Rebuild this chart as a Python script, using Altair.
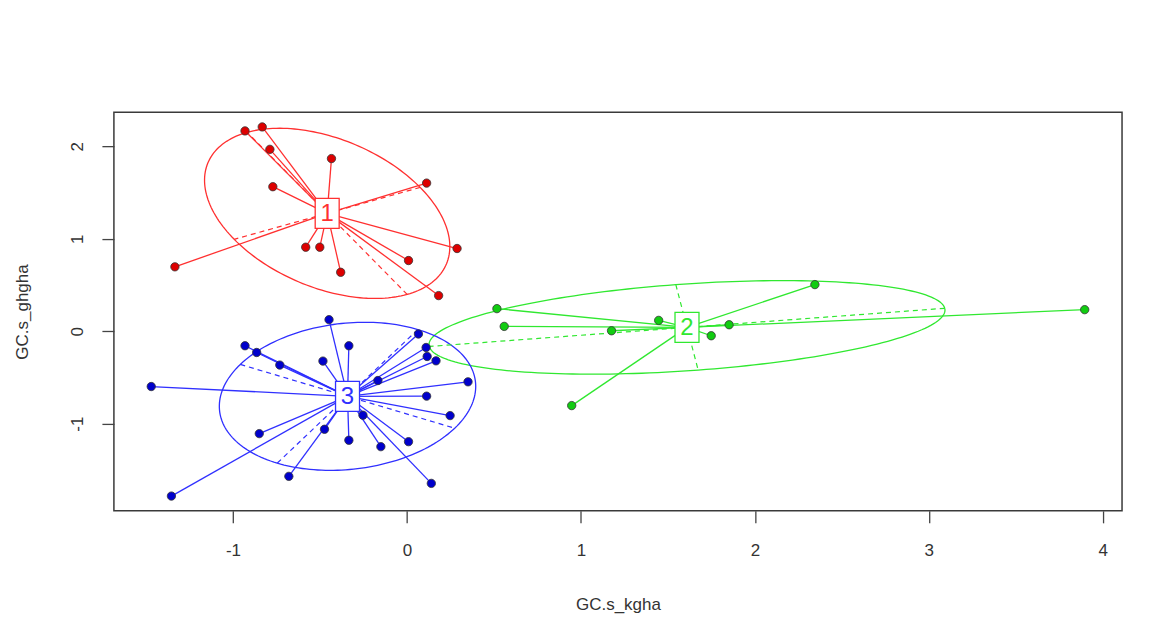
import altair as alt
import numpy as np
import pandas as pd

x_title = "GC.s_kgha"
y_title = "GC.s_ghgha"
cluster_names = ["1", "2", "3"]
line_colors = ["#ff3030", "#30e830", "#3030ff"]
point_colors = ["#dd0000", "#11cc11", "#0000cc"]
x_ticks = [-1, 0, 1, 2, 3, 4]
y_ticks = [-1, 0, 1, 2]

c1_x = [-0.931, -0.832, -0.788, -0.434, -0.771, 0.113, 0.288, 0.009, 0.182, -0.381, -0.501, -0.582, -1.334]
c1_y = [2.165, 2.208, 1.966, 1.866, 1.562, 1.601, 0.894, 0.764, 0.385, 0.637, 0.908, 0.908, 0.696]

c2_x = [0.517, 0.559, 1.176, 1.447, 1.749, 1.852, 0.947, 2.345, 3.896]
c2_y = [0.244, 0.052, 0.005, 0.117, -0.049, 0.070, -0.804, 0.504, 0.233]

c3_x = [-0.448, -0.931, -0.864, -0.731, -0.334, -0.483, 0.066, 0.110, 0.116, 0.167,
        -0.167, 0.351, 0.113, 0.248, -0.253, 0.009, -0.150, -0.334, -0.474, -0.849,
        -0.679, 0.140, -1.354, -1.470]
c3_y = [0.125, -0.157, -0.230, -0.366, -0.157, -0.323, -0.030, -0.176, -0.273, -0.320,
        -0.533, -0.547, -0.702, -0.912, -0.908, -1.194, -1.248, -1.179, -1.060, -1.107,
        -1.569, -1.645, -1.782, -0.598]

groups = {"1": (c1_x, c1_y), "2": (c2_x, c2_y), "3": (c3_x, c3_y)}
CELLIPSE = 1.5


def ellipse(mx, my, vx, cxy, vy, coeff, n=200):
    delta = np.sqrt((vx - vy) ** 2 + 4 * cxy * cxy)
    l1 = max((vx + vy + delta) / 2, 0)
    l2 = max(vx + vy - l1, 0)
    l1, l2 = np.sqrt(l1), np.sqrt(l2)
    a0 = 1.0
    b0 = (l1 * l1 - vx) / cxy
    nrm = np.sqrt(a0 * a0 + b0 * b0)
    a0, b0 = a0 / nrm, b0 / nrm
    c11 = coeff * a0 * l1
    c12 = -coeff * b0 * l2
    c21 = coeff * b0 * l1
    c22 = coeff * a0 * l2
    t = np.linspace(0, 2 * np.pi, n + 1)
    ex = mx + c11 * np.cos(t) + c12 * np.sin(t)
    ey = my + c21 * np.cos(t) + c22 * np.sin(t)
    seg1 = (mx + c11, my + c21, mx - c11, my - c21)
    seg2 = (mx + c12, my + c22, mx - c12, my - c22)
    return ex, ey, seg1, seg2


pts_rows, ell_rows, ax_rows, ctr_rows = [], [], [], []
for g, (xs, ys) in groups.items():
    xa, ya = np.array(xs), np.array(ys)
    mx, my = xa.mean(), ya.mean()
    vx = ((xa - mx) ** 2).mean()
    vy = ((ya - my) ** 2).mean()
    cxy = ((xa - mx) * (ya - my)).mean()
    ctr_rows.append({"g": g, "cx": mx, "cy": my})
    for a, b in zip(xs, ys):
        pts_rows.append({"g": g, "x": a, "y": b, "cx": mx, "cy": my})
    ex, ey, s1, s2 = ellipse(mx, my, vx, cxy, vy, CELLIPSE)
    for i, (a, b) in enumerate(zip(ex, ey)):
        ell_rows.append({"g": g, "x": a, "y": b, "o": i})
    for s in (s1, s2):
        ax_rows.append({"g": g, "x": s[0], "y": s[1], "x2": s[2], "y2": s[3]})

pts = pd.DataFrame(pts_rows)
ell = pd.DataFrame(ell_rows)
axs = pd.DataFrame(ax_rows)
ctr = pd.DataFrame(ctr_rows)

allx = c1_x + c2_x + c3_x
ally = c1_y + c2_y + c3_y
rx = max(allx) - min(allx)
ry = max(ally) - min(ally)
xdom = [min(allx) - 0.04 * rx, max(allx) + 0.04 * rx]
ydom = [min(ally) - 0.04 * ry, max(ally) + 0.04 * ry]

FONT = "Liberation Sans"
TXT = "#333333"

xs_ = alt.Scale(domain=xdom, nice=False, zero=False)
ys_ = alt.Scale(domain=ydom, nice=False, zero=False)
line_col = alt.Color("g:N", scale=alt.Scale(domain=cluster_names, range=line_colors), legend=None)
pt_col = alt.Color("g:N", scale=alt.Scale(domain=cluster_names, range=point_colors), legend=None)

xaxis = alt.Axis(values=x_ticks, title=x_title, grid=False, domain=False, tickSize=12,
                 tickColor="#444444", tickWidth=1.3, labelFont=FONT, labelFontSize=17,
                 labelColor=TXT, labelPadding=20, labelBaseline="top",
                 labelExpr="'' + datum.value", titleFont=FONT,
                 titleFontSize=17, titleFontWeight="normal", titleColor=TXT, titlePadding=38)
yaxis = alt.Axis(values=y_ticks, title=y_title, grid=False, domain=False, tickSize=12,
                 tickColor="#444444", tickWidth=1.3, labelFont=FONT, labelFontSize=17,
                 labelColor=TXT, labelPadding=19, labelAngle=270, labelAlign="center",
                 labelBaseline="alphabetic", labelExpr="'' + datum.value",
                 titleFont=FONT, titleFontSize=17,
                 titleFontWeight="normal", titleColor=TXT, titlePadding=37)

base_x = alt.X("x:Q", scale=xs_, axis=xaxis)
base_y = alt.Y("y:Q", scale=ys_, axis=yaxis)

ellipses = alt.Chart(ell).mark_line(strokeWidth=1.3).encode(
    x=base_x, y=base_y, color=line_col, detail="g:N", order="o:Q")

axes_lines = alt.Chart(axs).mark_rule(strokeWidth=1.2, strokeDash=[5, 4]).encode(
    x=alt.X("x:Q", scale=xs_, axis=xaxis), y=alt.Y("y:Q", scale=ys_, axis=yaxis),
    x2="x2:Q", y2="y2:Q", color=line_col)

spider = alt.Chart(pts).mark_rule(strokeWidth=1.3).encode(
    x=alt.X("x:Q", scale=xs_, axis=xaxis), y=alt.Y("y:Q", scale=ys_, axis=yaxis),
    x2="cx:Q", y2="cy:Q", color=line_col)

points = alt.Chart(pts).mark_point(filled=True, size=70, opacity=1, stroke="#333333",
                                    strokeWidth=0.8).encode(
    x=alt.X("x:Q", scale=xs_, axis=xaxis), y=alt.Y("y:Q", scale=ys_, axis=yaxis),
    fill=pt_col)

boxes = alt.Chart(ctr).mark_point(shape="M-0.8,-1L0.8,-1L0.8,1L-0.8,1Z", size=900,
                                  filled=False, fill="white", fillOpacity=1, opacity=1,
                                  strokeWidth=1.3).encode(
    x=alt.X("cx:Q", scale=xs_, axis=xaxis), y=alt.Y("cy:Q", scale=ys_, axis=yaxis),
    stroke=alt.Stroke("g:N", scale=alt.Scale(domain=cluster_names, range=line_colors), legend=None))

labels = alt.Chart(ctr).mark_text(font=FONT, fontSize=24, baseline="middle", align="center",
                                  dy=1).encode(
    x=alt.X("cx:Q", scale=xs_, axis=xaxis), y=alt.Y("cy:Q", scale=ys_, axis=yaxis),
    text="g:N", color=line_col)

chart = alt.layer(ellipses, axes_lines, spider, points, boxes, labels).properties(
    width=1009, height=399,
    autosize=alt.AutoSizeParams(type="none"),
    padding={"left": 106, "top": 104, "right": 44, "bottom": 120},
    background="white",
).configure_view(stroke="#3a3a3a", strokeWidth=1.5).resolve_scale(color="shared")

chart.save("out.html", embed_options={"renderer": "svg", "actions": False})
